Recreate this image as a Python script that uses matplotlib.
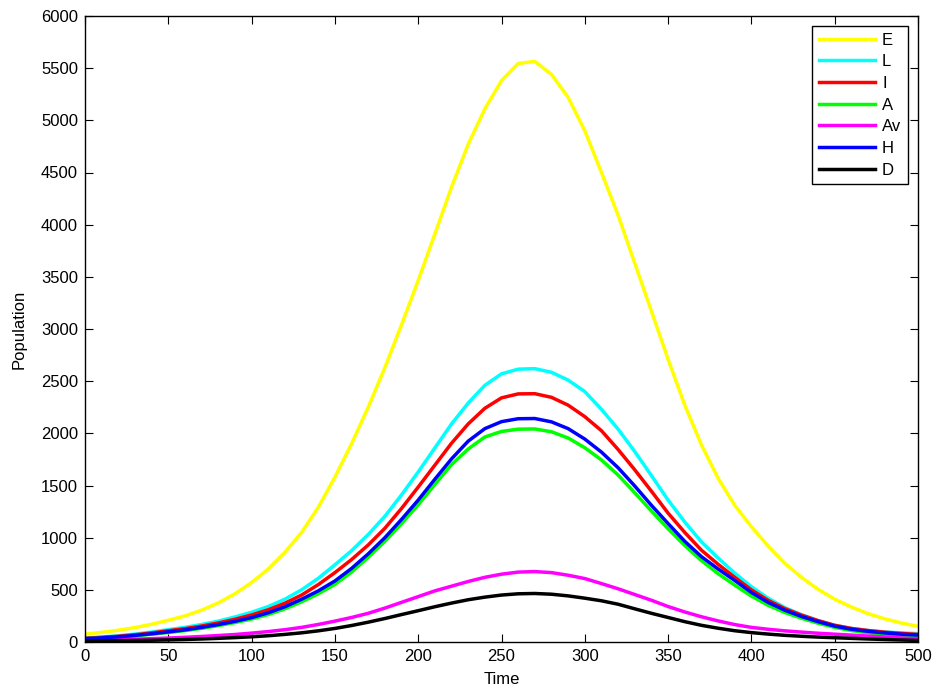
import matplotlib
matplotlib.use("Agg")
import matplotlib.pyplot as plt
import numpy as np

plt.rcParams['font.family'] = ['Liberation Sans', 'DejaVu Sans']

time = list(range(0, 501, 10))

E = [75, 92, 113, 138, 170, 208, 250, 305, 375, 462,
     570, 700, 860, 1050, 1290, 1580, 1900, 2250, 2630, 3040,
     3465, 3910, 4360, 4770, 5110, 5380, 5545, 5565, 5440, 5220,
     4900, 4500, 4090, 3630, 3170, 2710, 2270, 1890, 1570, 1310,
     1105, 920, 755, 620, 505, 410, 335, 272, 222, 182, 150]

L = [38, 48, 60, 76, 95, 118, 140, 168, 200, 240,
     285, 340, 410, 500, 610, 740, 875, 1030, 1205, 1410,
     1630, 1860, 2090, 2290, 2460, 2570, 2615, 2620, 2585, 2510,
     2400, 2230, 2040, 1825, 1595, 1360, 1150, 960, 805, 660,
     530, 420, 330, 262, 205, 160, 130, 110, 96, 87, 80]

I = [35, 44, 55, 69, 87, 108, 128, 153, 183, 218,
     259, 309, 372, 450, 550, 665, 790, 930, 1090, 1280,
     1485, 1695, 1905, 2090, 2240, 2340, 2378, 2380, 2345, 2270,
     2160, 2025, 1845, 1650, 1445, 1235, 1050, 880, 745, 620,
     500, 400, 320, 258, 205, 160, 130, 110, 94, 82, 73]

A = [30, 38, 47, 59, 74, 91, 109, 131, 157, 186,
     220, 263, 318, 385, 462, 552, 670, 812, 965, 1135,
     1315, 1510, 1700, 1850, 1965, 2018, 2040, 2042, 2015, 1955,
     1862, 1745, 1600, 1430, 1255, 1085, 925, 780, 655, 545,
     440, 352, 283, 228, 180, 140, 110, 88, 70, 55, 42]

Av = [15, 18, 22, 27, 32, 38, 45, 53, 62, 72,
      85, 100, 118, 140, 168, 200, 235, 275, 325, 380,
      435, 490, 535, 580, 620, 650, 670, 675, 665, 640,
      608, 560, 510, 455, 400, 340, 288, 242, 202, 167,
      140, 122, 107, 95, 84, 75, 66, 57, 48, 39, 30]

H = [32, 40, 50, 63, 79, 97, 116, 140, 167, 198,
     234, 280, 338, 410, 490, 585, 705, 845, 1000, 1175,
     1360, 1560, 1755, 1925, 2045, 2112, 2140, 2142, 2110, 2045,
     1945, 1820, 1670, 1495, 1310, 1135, 965, 818, 700, 590,
     475, 380, 305, 245, 195, 152, 122, 102, 87, 75, 66]

D = [10, 11, 13, 15, 17, 20, 24, 29, 35, 42,
     50, 60, 73, 88, 107, 130, 158, 190, 225, 263,
     300, 338, 373, 405, 430, 450, 462, 465, 458, 442,
     420, 395, 362, 318, 275, 235, 195, 160, 132, 108,
     90, 76, 64, 55, 47, 41, 35, 29, 24, 19, 15]

series = [("E", E, "#ffff00"), ("L", L, "#00ffff"), ("I", I, "#ff0000"),
          ("A", A, "#00ff00"), ("Av", Av, "#ff00ff"), ("H", H, "#0000ff"),
          ("D", D, "#000000")]

xticks = list(range(0, 501, 50))
yticks = list(range(0, 6001, 500))

fig = plt.figure(figsize=(9.36, 6.89), dpi=100)
ax = fig.add_axes([85/936, 47/689, 833/936, 626/689])

for name, vals, col in series:
    ax.plot(time, vals, color=col, linewidth=2.5, label=name,
            solid_joinstyle='round')

ax.set_xlim(0, 500)
ax.set_ylim(0, 6000)
ax.set_xticks(xticks)
ax.set_yticks(yticks)
ax.tick_params(direction='in', top=True, right=True, length=6, width=0.8,
               labelsize=12, pad=5)
for s in ax.spines.values():
    s.set_linewidth(1.0)
ax.set_xlabel("Time", fontsize=12, labelpad=6)
ax.set_ylabel("Population", fontsize=12, labelpad=10)

leg = ax.legend(loc='upper right', fontsize=12, handlelength=3.4,
                labelspacing=0.4, borderaxespad=0.6, fancybox=False,
                framealpha=1, edgecolor='black', handletextpad=0.4,
                borderpad=0.4)
leg.get_frame().set_linewidth(1.0)

fig.savefig("out.png", dpi=100)
